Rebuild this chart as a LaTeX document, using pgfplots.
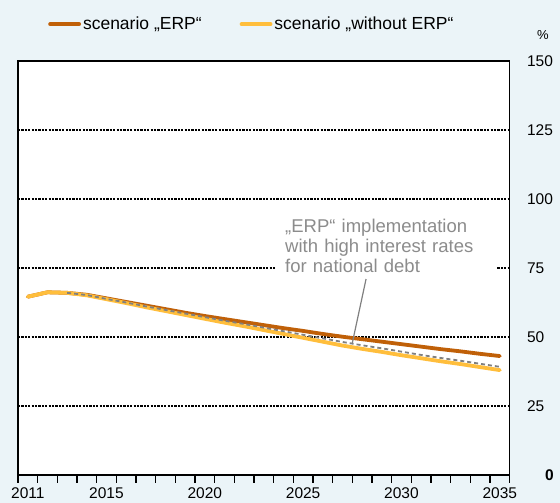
\documentclass[border=0pt]{standalone}
\usepackage{pgfplots}
\pgfplotsset{compat=1.18}
\usepackage{fontspec}
\setmainfont{Liberation Sans}
\definecolor{bgblue}{RGB}{235,244,248}
\definecolor{erp}{RGB}{192,96,8}
\definecolor{noerp}{RGB}{255,190,60}
\definecolor{dashgray}{RGB}{128,128,128}
\definecolor{notegray}{RGB}{140,140,140}

\begin{document}
\begin{tikzpicture}
\fill[bgblue] (-18pt,-28pt) rectangle (542pt,475pt);
\begin{axis}[
  at={(0,0)}, anchor=south west,
  scale only axis, width=491.6pt, height=414pt,
  xmin=2010.5, xmax=2035.5, ymin=0, ymax=150,
  axis background/.style={fill=white},
  axis line style={line width=1.4pt},
  % year boundaries carry the tick marks, labels sit at year centres
  xtick={2010.5,2011.5,2012.5,2013.5,2014.5,2015.5,2016.5,2017.5,2018.5,
    2019.5,2020.5,2021.5,2022.5,2023.5,2024.5,2025.5,2026.5,2027.5,2028.5,
    2029.5,2030.5,2031.5,2032.5,2033.5,2034.5,2035.5},
  xticklabels={},
  extra x ticks={2011,2015,2020,2025,2030,2035},
  extra x tick labels={2011,2015,2020,2025,2030,2035},
  extra x tick style={major tick length=0pt, xticklabel style={yshift=-9.5pt}},
  xtick pos=bottom,
  tick align=outside,
  major tick length=8pt,
  x tick style={line width=1.4pt, black},
  y tick style={draw=none},
  ytick={0,25,...,150},
  yticklabels={\hspace*{18pt}\textbf{0},25,50,75,100,125,150},
  yticklabel pos=right,
  ymajorgrids,
  grid style={black, line width=1.4pt, dash pattern=on 2.2pt off 1.2pt},
  tick label style={font=\fontsize{15.5}{18}\selectfont},
  yticklabel style={anchor=west, xshift=6pt},
  clip=false,
  legend style={draw=none, fill=none, at={(0.055,1.089)}, anchor=west,
    legend columns=2, font=\fontsize{17.5}{20}\selectfont,
    /tikz/every even column/.append style={column sep=36pt}},
  legend cell align=left,
  legend image code/.code={\draw[#1, line cap=butt] (0pt,0pt) -- (27pt,0pt);
    \path (0pt,0pt) -- (29pt,0pt);},
]
\addplot[erp, line width=3.8pt, line cap=round, line join=round] coordinates {
  (2011,64.6) (2012,66.2) (2013,66.0) (2014,65.3) (2015,64.0) (2016,62.7)
  (2017,61.4) (2018,60.1) (2019,58.8) (2020,57.6) (2021,56.5) (2022,55.4)
  (2023,54.3) (2024,53.2) (2025,52.2) (2026,51.1) (2027,50.1) (2028,49.2)
  (2029,48.3) (2030,47.4) (2031,46.5) (2032,45.6) (2033,44.8) (2034,43.9)
  (2035,43.1)
};
\addlegendentry{scenario „ERP“}
\addplot[noerp, line width=3.8pt, line cap=round, line join=round] coordinates {
  (2011,64.6) (2012,66.2) (2013,66.0) (2014,65.1) (2015,63.7) (2016,62.3)
  (2017,60.8) (2018,59.4) (2019,58.0) (2020,56.6) (2021,55.2) (2022,53.9)
  (2023,52.5) (2024,51.1) (2025,49.7) (2026,48.3) (2027,46.9) (2028,45.7)
  (2029,44.6) (2030,43.4) (2031,42.3) (2032,41.2) (2033,40.2) (2034,39.1)
  (2035,38.0)
};
\addlegendentry{scenario „without ERP“}
\addplot[dashgray, line width=1.8pt, dash pattern=on 4pt off 3pt, forget plot] coordinates {
  (2013,66.0) (2014,65.2) (2015,63.8) (2016,62.5)
  (2017,61.1) (2018,59.8) (2019,58.5) (2020,57.2) (2021,55.9) (2022,54.7)
  (2023,53.4) (2024,52.1) (2025,50.8) (2026,49.5) (2027,48.2) (2028,47.0)
  (2029,45.9) (2030,44.7) (2031,43.5) (2032,42.4) (2033,41.4) (2034,40.3)
  (2035,39.2)
};
\node[anchor=north west, fill=white, text=notegray, align=left, text width=202pt,
  inner xsep=10pt, inner ysep=3pt, font=\fontsize{18.5}{20}\selectfont]
  at (axis cs:2023.57,94.0) {„ERP“ implementation\\with high interest rates\\for national debt};
\draw[dashgray, line width=1.2pt] (axis cs:2028.2,71.0) -- (axis cs:2027.5,47.8);
\node[font=\fontsize{13}{15}\selectfont, xshift=33.4pt, yshift=26pt] at (rel axis cs:1,1) {\%};
\end{axis}
\pgfresetboundingbox
\useasboundingbox (-18pt,-28pt) rectangle (542pt,475pt);
\end{tikzpicture}
\end{document}
